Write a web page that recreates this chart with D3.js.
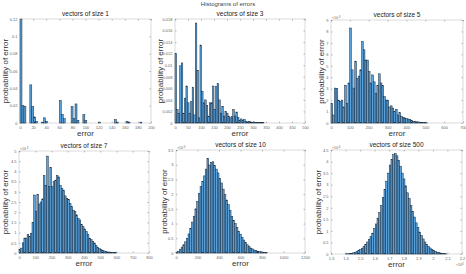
<!DOCTYPE html>
<html>
<head>
<meta charset="utf-8">
<script src="https://cdn.jsdelivr.net/npm/d3@7"></script>
<style>
  body { margin: 0; background: #fff; }
  svg { display: block; font-family: "Liberation Sans", Arial, sans-serif; }
  .tick text { fill: #666; font-size: 4px; }
  .tick line { stroke: #777; stroke-width: 0.5; }
</style>
</head>
<body>
<svg id="chart" width="466" height="274"></svg>
<script>
"use strict";

// size 1 : bins rares, on garde le début de chaque case
var size1Start = [0, 3, 6, 15, 18, 21, 24, 33, 36, 39, 60, 63, 66, 78, 81, 84, 87, 96, 99, 120, 144, 147, 162, 165, 183]
var size1Prob = [0.12, 0.02, 0.019, 0.044, 0.019, 0.007, 0.002, 0.001, 0.006, 0.002, 0.026, 0.01, 0.005,
  0.019, 0.005, 0.022, 0.003, 0.0096, 0.003, 0.001, 0.004, 0.001, 0.002, 0.001, 0.001]
var size1XTicks = [0, 20, 40, 60, 80, 100, 120, 140, 160, 180, 200]
var size1YTicks = [0, 0.02, 0.04, 0.06, 0.08, 0.1, 0.12]

// size 3 : cases de largeur 6
var size3Prob = [0.012, 0.0023, 0.0017, 0.0099, 0.0104, 0.0017, 0.0043, 0.0064, 0.0035, 0.0017, 0.0037, 0.0062,
  0.0014, 0.0173, 0.0091, 0.0009, 0.0135, 0.0055, 0.0035, 0.004, 0.003, 0.0012, 0.0035, 0.0035, 0.0064, 0.0023,
  0.0063, 0.0068, 0.004, 0.0017, 0.0029, 0.0012, 0.002, 0.0017, 0.0012, 0.0009, 0.0011, 0.0023, 0.0012, 0.0019,
  0.001, 0.0005, 0.0007, 0.0004, 0.0006, 0.0003, 0.0002, 0.0003, 0.0002, 0.0001, 0.0002, 0.0001, 0.0001, 0.0001,
  0.00005, 0.00005, 0.00005]
var size3XTicks = [0, 50, 100, 150, 200, 250, 300, 350, 400, 450, 500]
var size3YTicks = [0, 0.002, 0.004, 0.006, 0.008, 0.01, 0.012, 0.014, 0.016, 0.018]

// size 5 : cases de largeur 9, valeurs en 1e-3
var size5Prob = [1.7, 0.7, 3.05, 3.0, 2.0, 1.9, 2.0, 1.4, 3.3, 1.7, 3.5, 8.3, 4.65, 3.05, 5.4, 3.9, 4.1, 4.65, 7.1,
  6.4, 5.5, 5.5, 4.5, 3.5, 4.2, 3.6, 2.6, 3.3, 4.3, 3.5, 3.3, 2.3, 2.0, 2.0, 1.4, 1.5, 1.3, 1.0, 1.2, 0.7, 0.9,
  0.6, 0.5, 0.45, 0.38, 0.35, 0.3, 0.23, 0.15, 0.15, 0.1, 0.1, 0.05, 0.05, 0.04, 0.03, 0.02]
var size5XTicks = [0, 100, 200, 300, 400, 500, 600, 700]
var size5YTicks = [0, 1, 2, 3, 4, 5, 6, 7, 8, 9]

// size 7 : cases de largeur 10, valeurs en 1e-3
var size7Prob = [0.16, 0.24, 0.5, 0.73, 0.73, 0.9, 0.8, 0.97, 1.5, 2.84, 2.03, 2.87, 2.4, 2.5, 2.65, 3.8, 3.3, 4.75,
  3.25, 4.2, 3.25, 3.5, 3.57, 3.8, 3.73, 3.3, 3.16, 3.08, 2.8, 2.68, 2.63, 2.43, 2.27, 2.1, 2.03, 1.87, 1.7, 1.62,
  1.41, 1.3, 1.18, 1.05, 0.9, 0.73, 0.65, 0.57, 0.49, 0.37, 0.28, 0.21, 0.16, 0.13, 0.1, 0.08, 0.05, 0.05, 0.03,
  0.03, 0.02, 0.02]
var size7XTicks = [0, 100, 200, 300, 400, 500, 600, 700, 800]
var size7YTicks = [0, 0.5, 1, 1.5, 2, 2.5, 3, 3.5, 4, 4.5, 5]

// size 10 : cases de largeur 16, valeurs en 1e-3
var size10Prob = [0.02, 0.06, 0.13, 0.2, 0.28, 0.38, 0.5, 0.65, 0.83, 1.05, 1.25, 1.5, 1.75, 2.03, 2.26, 2.43, 2.62,
  2.85, 3.22, 2.99, 3.08, 3.1, 2.97, 2.85, 2.72, 2.54, 2.38, 2.17, 1.98, 1.8, 1.64, 1.45, 1.25, 1.1, 1.0, 0.87,
  0.74, 0.64, 0.53, 0.44, 0.35, 0.28, 0.23, 0.17, 0.14, 0.1, 0.08, 0.06, 0.05, 0.04, 0.03, 0.02, 0.01]
var size10XTicks = [0, 200, 400, 600, 800, 1000, 1200]
var size10YTicks = [0, 0.5, 1, 1.5, 2, 2.5, 3, 3.5]

// size 500 : erreur en 1e4 (cases de 0.012 à partir de 1.4), valeurs en 1e-4
var size500Prob = [0.01, 0.01, 0.02, 0.03, 0.05, 0.07, 0.11, 0.15, 0.19, 0.25, 0.33, 0.42, 0.52, 0.63, 0.75, 0.9,
  1.1, 1.3, 1.55, 1.8, 2.1, 2.45, 2.8, 3.15, 3.5, 3.85, 4.1, 4.3, 4.35, 4.25, 4.05, 3.8, 3.5, 3.25, 2.95, 2.65, 2.4,
  2.1, 1.85, 1.6, 1.35, 1.15, 0.95, 0.8, 0.65, 0.52, 0.42, 0.33, 0.26, 0.2, 0.15, 0.11, 0.08, 0.06, 0.04, 0.03,
  0.02, 0.01]
var size500XTicks = [1.3, 1.4, 1.5, 1.6, 1.7, 1.8, 1.9, 2, 2.1, 2.2]
var size500YTicks = [0, 0.5, 1, 1.5, 2, 2.5, 3, 3.5, 4, 4.5]

function seqBins(values, start, width) {
  return values.map(function(v, i) { return { x0: start + i * width, x1: start + (i + 1) * width, v: v } })
}

var panels = [
  { title: "vectors of size 1", box: [20, 151, 19, 123], xDom: [0, 200], yDom: [0, 0.12],
    xTicks: size1XTicks, yTicks: size1YTicks, ylx: 5,
    bins: size1Start.map(function(s, i) { return { x0: s, x1: s + 3, v: size1Prob[i] } }) },
  { title: "vectors of size 3", box: [175, 305, 19, 123], xDom: [0, 500], yDom: [0, 0.018],
    xTicks: size3XTicks, yTicks: size3YTicks, ylx: 160, bins: seqBins(size3Prob, 0, 6) },
  { title: "vectors of size 5", box: [331, 463, 20, 123], xDom: [0, 700], yDom: [0, 9],
    xTicks: size5XTicks, yTicks: size5YTicks, ylx: 321, yExp: "-3", bins: seqBins(size5Prob, 0, 9) },
  { title: "vectors of size 7", box: [19, 149, 151, 253], xDom: [0, 800], yDom: [0, 5],
    xTicks: size7XTicks, yTicks: size7YTicks, ylx: 5, yExp: "-3", bins: seqBins(size7Prob, 0, 10) },
  { title: "vectors of size 10", box: [176, 305, 150, 253], xDom: [0, 1200], yDom: [0, 3.5],
    xTicks: size10XTicks, yTicks: size10YTicks, ylx: 164, yExp: "-3", bins: seqBins(size10Prob, 0, 16) },
  { title: "vectors of size 500", box: [331, 462, 150, 254], xDom: [1.3, 2.2], yDom: [0, 4.5],
    xTicks: size500XTicks, yTicks: size500YTicks, ylx: 318, yExp: "-4", xExp: "4",
    bins: seqBins(size500Prob, 1.4, 0.012) }
]

var svg = d3.select("#chart")
var fmt = function(d) { return String(+d.toFixed(4)) }

// titre général, tout en haut
svg.append("text")
  .attr("x", 228).attr("y", 5.5)
  .attr("text-anchor", "middle")
  .style("font-size", "6px").style("fill", "#444")
  .text("Histograms of errors")

panels.forEach(function(p) {
  var L = p.box[0], R = p.box[1], T = p.box[2], B = p.box[3]
  var x = d3.scaleLinear().domain(p.xDom).range([L, R])
  var y = d3.scaleLinear().domain(p.yDom).range([B, T])
  var g = svg.append("g")

  g.append("rect")
    .attr("x", L).attr("y", T).attr("width", R - L).attr("height", B - T)
    .attr("fill", "none").attr("stroke", "#c4c4c4").attr("stroke-width", 0.6)

  g.append("g").selectAll("rect")
    .data(p.bins)
    .enter()
    .append("rect")
      .attr("x", function(d) { return x(d.x0) })
      .attr("y", function(d) { return y(d.v) })
      .attr("width", function(d) { return x(d.x1) - x(d.x0) })
      .attr("height", function(d) { return B - y(d.v) })
      .attr("fill", "#5aa2dc")
      .attr("stroke", "#15283c")
      .attr("stroke-width", 0.5)

  var ax = [
    [d3.axisBottom(x).tickValues(p.xTicks).tickFormat(fmt), B],
    [d3.axisTop(x).tickValues(p.xTicks).tickFormat(""), T]
  ]
  ax.forEach(function(a) {
    var s = g.append("g").attr("transform", "translate(0," + a[1] + ")")
      .call(a[0].tickSizeInner(-1.5).tickSizeOuter(0).tickPadding(3))
    s.select(".domain").remove()
  })
  var ay = [
    [d3.axisLeft(y).tickValues(p.yTicks).tickFormat(fmt), L],
    [d3.axisRight(y).tickValues(p.yTicks).tickFormat(""), R]
  ]
  ay.forEach(function(a) {
    var s = g.append("g").attr("transform", "translate(" + a[1] + ",0)")
      .call(a[0].tickSizeInner(-1.5).tickSizeOuter(0).tickPadding(2.5))
    s.select(".domain").remove()
  })

  g.append("text")
    .attr("x", (L + R) / 2).attr("y", T - 3)
    .attr("text-anchor", "middle")
    .style("font-size", "6.5px").style("fill", "#222")
    .text(p.title)

  g.append("text")
    .attr("x", (L + R) / 2).attr("y", B + 13)
    .attr("text-anchor", "middle")
    .style("font-size", "8px").style("fill", "#333")
    .text("error")

  g.append("text")
    .attr("transform", "translate(" + (p.ylx + 3) + "," + ((T + B) / 2) + ") rotate(-90)")
    .attr("text-anchor", "middle")
    .style("font-size", "8px").style("fill", "#333")
    .text("probability of error")

  if (p.yExp) {
    var e = g.append("text").attr("x", L + 1).attr("y", T - 1)
      .style("font-size", "3.5px").style("fill", "#666")
    e.append("tspan").text("×10")
    e.append("tspan").attr("dy", -1.5).style("font-size", "2.8px").text(p.yExp)
  }
  if (p.xExp) {
    var f = g.append("text").attr("x", R - 6).attr("y", B + 12)
      .style("font-size", "3.5px").style("fill", "#666")
    f.append("tspan").text("×10")
    f.append("tspan").attr("dy", -1.5).style("font-size", "2.8px").text(p.xExp)
  }
})
</script>
</body>
</html>
